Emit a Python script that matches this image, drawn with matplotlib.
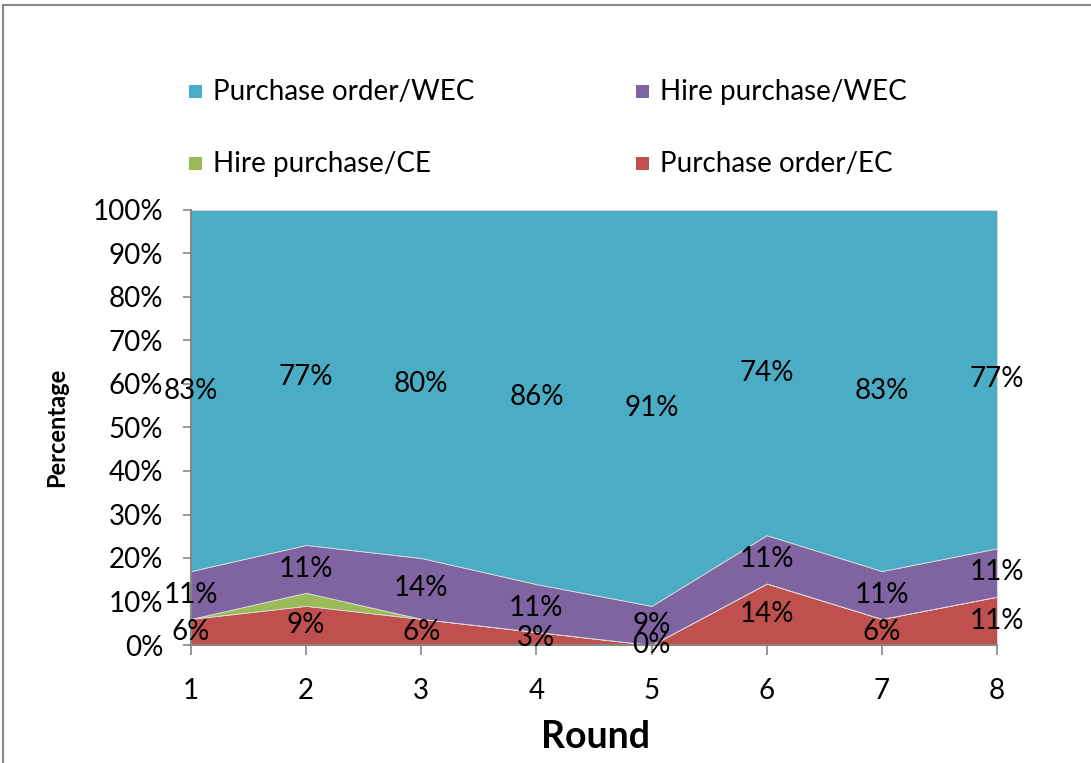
import numpy as np
import matplotlib
matplotlib.use("Agg")
import matplotlib.pyplot as plt
from matplotlib.patches import Rectangle

rounds = [1, 2, 3, 4, 5, 6, 7, 8]
series_names = ["Purchase order/EC", "Hire purchase/CE", "Hire purchase/WEC", "Purchase order/WEC"]
po_ec = [6, 9, 6, 3, 0, 14, 6, 11]
hp_ce = [0, 3, 0, 0, 0, 0, 0, 0]
hp_wec = [11, 11, 14, 11, 9, 11, 11, 11]
po_wec = [83, 77, 80, 86, 91, 74, 83, 77]
colors = ["#C0504D", "#9BBB59", "#8064A2", "#4BACC6"]
show_labels = [True, False, True, True]
yticks = [0, 10, 20, 30, 40, 50, 60, 70, 80, 90, 100]

plt.rcParams['font.family'] = ['Lato', 'DejaVu Sans']

W, H = 1091, 763
fig = plt.figure(figsize=(W / 100, H / 100), dpi=100)
ax = fig.add_axes([191 / W, 1 - 645 / H, (997 - 191) / W, (645 - 210) / H])

raw = np.array([po_ec, hp_ce, hp_wec, po_wec], dtype=float)
tot = raw.sum(axis=0)
pct = raw / tot * 100
x = np.array(rounds)
ax.stackplot(x, pct, colors=colors, edgecolor="#dddddd", linewidth=0.6)

cum = np.cumsum(pct, axis=0)
base = np.vstack([np.zeros(len(x)), cum[:-1]])
for i in range(len(series_names)):
    if not show_labels[i]:
        continue
    for j in range(len(x)):
        mid = (base[i, j] + cum[i, j]) / 2
        ax.text(x[j], mid, f"{int(raw[i, j])}%", ha="center", va="center",
                fontsize=20, color="black", clip_on=False)

ax.set_xlim(1, 8)
ax.set_ylim(0, 100)
ax.set_yticks(yticks)
ax.set_yticklabels([f"{v}%" for v in yticks])
ax.set_xticks(rounds)
ax.set_xticklabels([str(r) for r in rounds])
ax.tick_params(axis="y", labelsize=20, length=6, width=1.2, color="#868686", pad=14)
ax.tick_params(axis="x", labelsize=20, length=7, width=1.2, color="#868686", pad=17)
for s in ["top", "right"]:
    ax.spines[s].set_visible(False)
for s in ["left", "bottom"]:
    ax.spines[s].set_color("#868686")
    ax.spines[s].set_linewidth(1.5)
ax.set_zorder(2)

fig.text(57 / W, 1 - 427 / H, "Percentage", rotation=90, ha="center", va="center",
         fontsize=17, fontweight="bold")
fig.text(595 / W, 1 - 737 / H, "Round", ha="center", va="center",
         fontsize=27, fontweight="bold")

# legend (manual)
leg_items = [(3, 189, 91), (2, 636, 91), (1, 189, 163), (0, 636, 163)]
for idx, lx, ly in leg_items:
    sq = 13
    fig.patches.append(Rectangle(((lx) / W, 1 - (ly + sq / 2) / H), sq / W, sq / H,
                                 transform=fig.transFigure, facecolor=colors[idx],
                                 edgecolor="none"))
    fig.text((lx + 24) / W, 1 - (ly + 1) / H, series_names[idx], ha="left", va="center",
             fontsize=20)

# chart border
fig.patches.append(Rectangle((3 / W, -0.05), 1.2, 1 - 5 / H + 0.05, transform=fig.transFigure,
                             facecolor="none", edgecolor="#888888", linewidth=1.5))

fig.savefig("out.png", dpi=100)
